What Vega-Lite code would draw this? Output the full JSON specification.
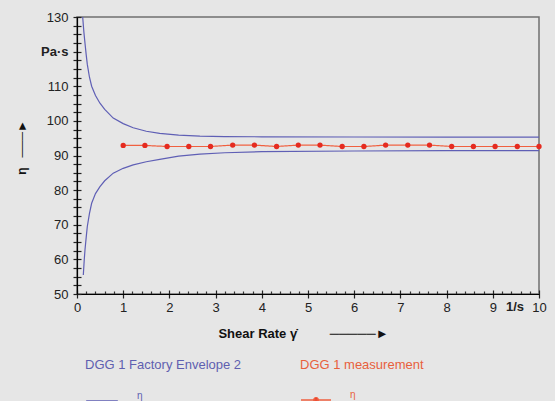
{
  "$schema": "https://vega.github.io/schema/vega-lite/v6.json",
  "width": 462,
  "height": 277,
  "autosize": "none",
  "padding": {"left": 77, "top": 17, "right": 16, "bottom": 107},
  "background": "#e6e6e6",
  "config": {
    "view": {"stroke": "#707070", "strokeWidth": 1.5, "fill": "#e6e6e6"},
    "font": "Liberation Sans"
  },
  "datasets": {
    "envelope": [
      {"bound": "upper", "series": "η", "rate": 0.123, "eta": 130},
      {"bound": "upper", "series": "η", "rate": 0.15, "eta": 125.5},
      {"bound": "upper", "series": "η", "rate": 0.173, "eta": 122.4},
      {"bound": "upper", "series": "η", "rate": 0.2, "eta": 119},
      {"bound": "upper", "series": "η", "rate": 0.223, "eta": 116.3},
      {"bound": "upper", "series": "η", "rate": 0.27, "eta": 112.6},
      {"bound": "upper", "series": "η", "rate": 0.317, "eta": 110},
      {"bound": "upper", "series": "η", "rate": 0.4, "eta": 107.3},
      {"bound": "upper", "series": "η", "rate": 0.497, "eta": 105.1},
      {"bound": "upper", "series": "η", "rate": 0.6, "eta": 103.3},
      {"bound": "upper", "series": "η", "rate": 0.784, "eta": 100.8},
      {"bound": "upper", "series": "η", "rate": 1.0, "eta": 99.2},
      {"bound": "upper", "series": "η", "rate": 1.216, "eta": 98.0},
      {"bound": "upper", "series": "η", "rate": 1.5, "eta": 97.0},
      {"bound": "upper", "series": "η", "rate": 1.79, "eta": 96.4},
      {"bound": "upper", "series": "η", "rate": 2.2, "eta": 95.9},
      {"bound": "upper", "series": "η", "rate": 2.66, "eta": 95.6},
      {"bound": "upper", "series": "η", "rate": 3.2, "eta": 95.45},
      {"bound": "upper", "series": "η", "rate": 4, "eta": 95.4},
      {"bound": "upper", "series": "η", "rate": 6, "eta": 95.35},
      {"bound": "upper", "series": "η", "rate": 8, "eta": 95.3},
      {"bound": "upper", "series": "η", "rate": 10, "eta": 95.3},
      {"bound": "lower", "series": "η", "rate": 0.137, "eta": 55.5},
      {"bound": "lower", "series": "η", "rate": 0.155, "eta": 59.5},
      {"bound": "lower", "series": "η", "rate": 0.173, "eta": 62.8},
      {"bound": "lower", "series": "η", "rate": 0.2, "eta": 66.5},
      {"bound": "lower", "series": "η", "rate": 0.223, "eta": 69.5},
      {"bound": "lower", "series": "η", "rate": 0.27, "eta": 73.3},
      {"bound": "lower", "series": "η", "rate": 0.317, "eta": 76.2},
      {"bound": "lower", "series": "η", "rate": 0.4, "eta": 79},
      {"bound": "lower", "series": "η", "rate": 0.497, "eta": 81.0},
      {"bound": "lower", "series": "η", "rate": 0.6, "eta": 82.7},
      {"bound": "lower", "series": "η", "rate": 0.784, "eta": 84.9},
      {"bound": "lower", "series": "η", "rate": 1.0, "eta": 86.3},
      {"bound": "lower", "series": "η", "rate": 1.216, "eta": 87.3},
      {"bound": "lower", "series": "η", "rate": 1.5, "eta": 88.2},
      {"bound": "lower", "series": "η", "rate": 1.79, "eta": 88.9},
      {"bound": "lower", "series": "η", "rate": 2.2, "eta": 89.8},
      {"bound": "lower", "series": "η", "rate": 2.66, "eta": 90.4},
      {"bound": "lower", "series": "η", "rate": 3.2, "eta": 90.8},
      {"bound": "lower", "series": "η", "rate": 4, "eta": 91.1},
      {"bound": "lower", "series": "η", "rate": 6, "eta": 91.3},
      {"bound": "lower", "series": "η", "rate": 8, "eta": 91.4},
      {"bound": "lower", "series": "η", "rate": 10, "eta": 91.4}
    ],
    "meas": [
      {"meas": "η", "rate": 1, "eta": 92.9},
      {"meas": "η", "rate": 1.47, "eta": 92.9},
      {"meas": "η", "rate": 1.95, "eta": 92.6},
      {"meas": "η", "rate": 2.42, "eta": 92.6},
      {"meas": "η", "rate": 2.89, "eta": 92.6},
      {"meas": "η", "rate": 3.37, "eta": 93.0},
      {"meas": "η", "rate": 3.84, "eta": 93.0},
      {"meas": "η", "rate": 4.32, "eta": 92.6},
      {"meas": "η", "rate": 4.79, "eta": 93.0},
      {"meas": "η", "rate": 5.26, "eta": 93.0},
      {"meas": "η", "rate": 5.74, "eta": 92.6},
      {"meas": "η", "rate": 6.21, "eta": 92.6},
      {"meas": "η", "rate": 6.68, "eta": 93.0},
      {"meas": "η", "rate": 7.16, "eta": 93.0},
      {"meas": "η", "rate": 7.63, "eta": 93.0},
      {"meas": "η", "rate": 8.11, "eta": 92.6},
      {"meas": "η", "rate": 8.58, "eta": 92.6},
      {"meas": "η", "rate": 9.05, "eta": 92.6},
      {"meas": "η", "rate": 9.53, "eta": 92.6},
      {"meas": "η", "rate": 10, "eta": 92.6}
    ],
    "units": [
      {"rate": 9.48, "eta": 50, "unit": "1/s"}
    ]
  },
  "layer": [
    {
      "data": {"name": "envelope"},
      "mark": {"type": "line", "strokeWidth": 1.2, "clip": true},
      "encoding": {
        "x": {
          "field": "rate", "type": "quantitative",
          "scale": {"domain": [0, 10], "nice": false, "zero": false},
          "axis": {
            "orient": "bottom", "offset": -4,
            "values": [0, 1, 2, 3, 4, 5, 6, 7, 8, 9, 10],
            "format": "d",
            "tickSize": 8, "tickColor": "#222", "tickWidth": 1.2,
            "domain": false, "grid": false,
            "labelFontSize": 13, "labelColor": "#222", "labelPadding": 3,
            "labelFlush": false, "labelOverlap": false, "labelBound": false,
            "title": "Shear Rate γ̇\u00a0\u00a0\u00a0\u00a0\u00a0\u00a0\u00a0\u00a0\u00a0─────►",
            "titleFontSize": 13, "titleFontWeight": "bold", "titleColor": "#111",
            "titleX": 226, "titleY": 43, "titleAlign": "center", "titleBaseline": "middle"
          }
        },
        "y": {
          "field": "eta", "type": "quantitative",
          "scale": {"domain": [50, 130], "nice": false, "zero": false},
          "axis": {
            "orient": "left", "offset": -4,
            "values": [50, 52.5, 55, 57.5, 60, 62.5, 65, 67.5, 70, 72.5, 75, 77.5, 80, 82.5, 85, 87.5, 90, 92.5, 95, 97.5, 100, 102.5, 105, 107.5, 110, 112.5, 115, 117.5, 120, 122.5, 125, 127.5, 130],
            "format": "d",
            "tickSize": 8, "tickColor": "#222", "tickWidth": 1.2,
            "domain": false, "grid": false,
            "labelExpr": "datum.value == 120 ? 'Pa·s' : (datum.value % 10 == 0 ? datum.label : '')",
            "labelFontWeight": {"condition": {"test": "datum.value == 120", "value": "bold"}, "value": "normal"},
            "labelFontSize": 13, "labelColor": "#222", "labelPadding": 5,
            "labelFlush": false, "labelOverlap": false,
            "title": "η\u00a0\u00a0\u00a0───►",
            "titleFontSize": 12, "titleFontWeight": "bold", "titleColor": "#111",
            "titleX": -60, "titleY": 130, "titleAlign": "center", "titleBaseline": "middle", "titleAngle": 270
          }
        },
        "detail": {"field": "bound"},
        "color": {
          "field": "series", "type": "nominal",
          "scale": {"range": ["#5f5fb5"]},
          "legend": {
            "orient": "none", "legendX": 8, "legendY": 342, "padding": 0,
            "title": "DGG 1 Factory Envelope 2",
            "titleFontSize": 13, "titleFontWeight": "normal", "titleColor": "#5f5fb0",
            "titlePadding": 12, "titleLimit": 300,
            "labelFontSize": 10, "labelColor": "#5f5fb0", "labelOffset": 18, "labelBaseline": "bottom",
            "symbolType": "stroke", "symbolSize": 1000, "symbolStrokeWidth": 1.5
          }
        }
      }
    },
    {
      "data": {"name": "meas"},
      "mark": {"type": "line", "strokeWidth": 1.2, "color": "#f06040"},
      "encoding": {
        "x": {
          "field": "rate", "type": "quantitative",
          "axis": {
            "orient": "bottom", "offset": 0,
            "values": [0.2, 0.4, 0.6, 0.8, 1.2, 1.4, 1.6, 1.8, 2.2, 2.4, 2.6, 2.8, 3.2, 3.4, 3.6, 3.8, 4.2, 4.4, 4.6, 4.8, 5.2, 5.4, 5.6, 5.8, 6.2, 6.4, 6.6, 6.8, 7.2, 7.4, 7.6, 7.8, 8.2, 8.4, 8.6, 8.8, 9.2, 9.4, 9.6, 9.8],
            "tickSize": -3, "tickColor": "#333", "tickWidth": 1.2,
            "labels": false, "title": null, "grid": false,
            "domain": true, "domainColor": "#000", "domainWidth": 1.2
          }
        },
        "y": {
          "field": "eta", "type": "quantitative",
          "axis": {
            "orient": "left", "offset": 0, "ticks": false, "labels": false, "title": null, "grid": false,
            "domain": true, "domainColor": "#000", "domainWidth": 1.2
          }
        },
        "strokeDash": {
          "field": "meas", "type": "nominal",
          "scale": {"range": [[1, 0]]},
          "legend": {
            "orient": "none", "legendX": 223, "legendY": 342, "padding": 0,
            "title": "DGG 1 measurement",
            "titleFontSize": 13, "titleFontWeight": "normal", "titleColor": "#e8603c",
            "titlePadding": 12, "titleLimit": 300,
            "labelFontSize": 10, "labelColor": "#e8603c", "labelOffset": 18, "labelBaseline": "bottom",
            "symbolType": "M-1,0L1,0M-0.15,0A0.15,0.15,0,1,1,0.15,0A0.15,0.15,0,1,1,-0.15,0Z",
            "symbolSize": 900, "symbolStrokeWidth": 1.5,
            "symbolStrokeColor": "#f06040", "symbolFillColor": "#e02020"
          }
        }
      }
    },
    {
      "data": {"name": "meas"},
      "mark": {"type": "point", "filled": true, "size": 28, "color": "#e52b20", "opacity": 1},
      "encoding": {
        "x": {"field": "rate", "type": "quantitative", "axis": null},
        "y": {"field": "eta", "type": "quantitative", "axis": null}
      }
    },
    {
      "data": {"name": "units"},
      "mark": {"type": "text", "fontSize": 13, "fontWeight": "bold", "color": "#222", "baseline": "top", "dy": 7, "align": "center"},
      "encoding": {
        "x": {"field": "rate", "type": "quantitative", "axis": null},
        "y": {"field": "eta", "type": "quantitative", "axis": null},
        "text": {"field": "unit"}
      }
    }
  ],
  "resolve": {"axis": {"x": "independent", "y": "independent"}}
}
